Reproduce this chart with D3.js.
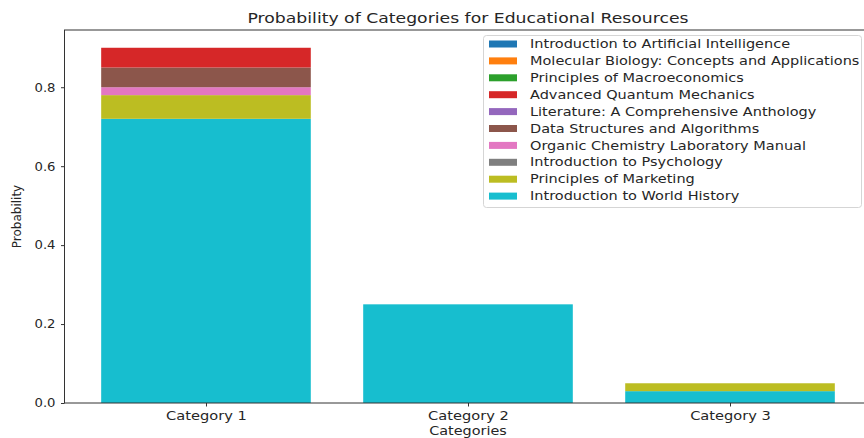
<!DOCTYPE html>
<html><head><meta charset="utf-8">
<script src="https://cdn.jsdelivr.net/npm/d3@7"></script>
<style>body{margin:0;background:#fff}svg{display:block}text{font-family:"DejaVu Sans",sans-serif;fill:#262626}</style>
</head><body><svg id="c" width="864" height="438"></svg>
<script>
const categories = ["Category 1", "Category 2", "Category 3"];
const seriesNames = ["Introduction to Artificial Intelligence","Molecular Biology: Concepts and Applications","Principles of Macroeconomics","Advanced Quantum Mechanics","Literature: A Comprehensive Anthology","Data Structures and Algorithms","Organic Chemistry Laboratory Manual","Introduction to Psychology","Principles of Marketing","Introduction to World History"];
const colors = ["#1f77b4","#ff7f0e","#2ca02c","#d62728","#9467bd","#8c564b","#e377c2","#7f7f7f","#bcbd22","#17becf"];
const aiVals = [0,0,0];
const molBioVals = [0,0,0];
const macroVals = [0,0,0];
const quantumVals = [0.05,0,0];
const literatureVals = [0,0,0];
const dataStructVals = [0.05,0,0];
const organicVals = [0.02,0,0];
const psychVals = [0,0,0];
const marketingVals = [0.06,0,0.02];
const worldHistoryVals = [0.72,0.25,0.03];
const seriesValues = [aiVals,molBioVals,macroVals,quantumVals,literatureVals,dataStructVals,organicVals,psychVals,marketingVals,worldHistoryVals];
const yTicks = [0,0.2,0.4,0.6,0.8];

const svg = d3.select("#c");
const L=64.5, R=871.5, T=30, B=403;
const x = d3.scaleLinear().domain([-0.54, 2.54]).range([L, R]);
const totals = categories.map((c,i)=>d3.sum(seriesValues,s=>s[i]));
const ymax = d3.max(totals)*1.05;
const y = d3.scaleLinear().domain([0, ymax]).range([B, T]);
const bw = 0.8;

function stretch(sel, s){
  sel.each(function(){
    const t=d3.select(this); const ax=+(t.attr("x")||0);
    const prev=t.attr("transform")||"";
    t.attr("transform", prev+` translate(${ax},0) scale(${s},1) translate(${-ax},0)`);
  });
}

const rows = categories.map((c,i)=>{const o={cat:c,idx:i};seriesNames.forEach((n,k)=>o[n]=seriesValues[k][i]);return o;});
const stack = d3.stack().keys(seriesNames.slice().reverse())(rows);
const g = svg.append("g");
stack.forEach(layer=>{
  const k = seriesNames.indexOf(layer.key);
  g.selectAll(null).data(layer).enter().append("rect")
    .attr("x", d=>x(d.data.idx-bw/2)).attr("width", d=>x(d.data.idx+bw/2)-x(d.data.idx-bw/2))
    .attr("y", d=>y(d[1])).attr("height", d=>y(d[0])-y(d[1]))
    .attr("fill", colors[k]);
});

const xa = svg.append("g").attr("transform",`translate(0,${B})`)
  .call(d3.axisBottom(x).tickValues([0,1,2]).tickFormat(i=>categories[i]).tickSize(3.5).tickSizeOuter(0));
const ya = svg.append("g").attr("transform",`translate(${L},0)`)
  .call(d3.axisLeft(y).tickValues(yTicks).tickFormat(d3.format(".1f")).tickSize(3.5).tickSizeOuter(0));
[xa,ya].forEach(a=>{a.selectAll("path").remove();a.selectAll("line").attr("stroke","#333");a.selectAll("text").style("font-size","12px").attr("fill","#262626").attr("font-family","DejaVu Sans");});
xa.selectAll("text").attr("dy","0.9em");
ya.selectAll("text").attr("x",-9);
stretch(xa.selectAll("text"),1.22);
stretch(ya.selectAll("text"),1.1);
svg.append("rect").attr("x",L).attr("y",T).attr("width",R-L).attr("height",B-T).attr("fill","none").attr("stroke","#333").attr("stroke-width",1);

const title = svg.append("text").attr("x",(L+R)/2).attr("y",23).attr("text-anchor","middle").style("font-size","14.5px").text("Probability of Categories for Educational Resources");
const xl = svg.append("text").attr("x",(L+R)/2).attr("y",435).attr("text-anchor","middle").style("font-size","12px").text("Categories");
stretch(title,1.19); stretch(xl,1.2);
svg.append("text").attr("transform",`translate(21,${(T+B)/2}) rotate(-90)`).attr("text-anchor","middle").style("font-size","12px").text("Probability");

const lg = svg.append("g");
lg.append("rect").attr("x",483.5).attr("y",35.5).attr("width",378).attr("height",172).attr("rx",3).attr("fill","#fff").attr("fill-opacity",0.8).attr("stroke","#d5d5d5");
seriesNames.forEach((n,k)=>{
  const yy = 44 + k*16.9;
  lg.append("rect").attr("x",489).attr("y",yy-3.5).attr("width",28).attr("height",7).attr("fill",colors[k]);
  const t = lg.append("text").attr("x",530).attr("y",yy).attr("dy","0.35em").style("font-size","12px").text(n);
  stretch(t,1.21);
});
</script></body></html>
